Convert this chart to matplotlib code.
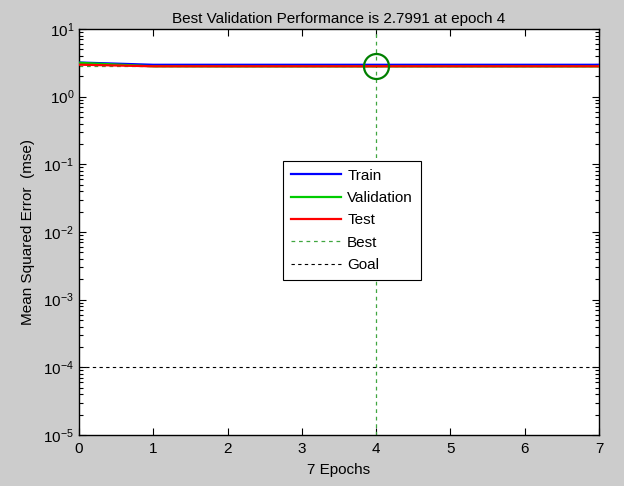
import matplotlib
matplotlib.use("Agg")
import matplotlib.pyplot as plt
from matplotlib.ticker import FixedLocator, NullFormatter, LogFormatterSciNotation

plt.rcParams['font.family'] = ['Liberation Sans', 'DejaVu Sans']
plt.rcParams['mathtext.fontset'] = 'custom'
plt.rcParams['mathtext.rm'] = 'Liberation Sans'
plt.rcParams['mathtext.it'] = 'Liberation Sans'

epochs = [0, 1, 2, 3, 4, 5, 6, 7]
train = [3.20, 2.96, 2.96, 2.96, 2.96, 2.96, 2.96, 2.96]
validation = [3.17, 2.81, 2.80, 2.80, 2.7991, 2.7992, 2.7993, 2.7994]
test = [2.97, 2.81, 2.81, 2.81, 2.81, 2.81, 2.81, 2.81]
best_epoch = 4
best_perf = 2.7991
goal = 1e-4
y_ticks = [1e-5, 1e-4, 1e-3, 1e-2, 1e-1, 1e0, 1e1]
title = "Best Validation Performance is 2.7991 at epoch 4"
xlabel = "7 Epochs"
ylabel = "Mean Squared Error  (mse)"

fs = 11
bg = '#cccccc'
fig = plt.figure(figsize=(6.24, 4.86), dpi=100, facecolor=bg)
ax = fig.add_axes([79/624, 1-435/486, 520/624, 406/486])
ax.set_facecolor('white')

ax.plot(epochs, train, color=(0, 0, 1), lw=1.6, label='Train', zorder=3)
ax.plot(epochs, validation, color=(0, 0.8, 0), lw=1.6, label='Validation', zorder=3)
ax.plot(epochs, test, color=(1, 0, 0), lw=1.6, label='Test', zorder=3)
best_col = (0.25, 0.65, 0.25)
ax.axvline(best_epoch, color=best_col, ls=(0, (3, 3)), lw=0.9, label='Best', zorder=2)
ax.axhline(best_perf, color=best_col, ls=(0, (3, 3)), lw=0.9, zorder=2)
ax.axhline(goal, color='black', ls=(0, (3, 3)), lw=0.8, label='Goal', zorder=2)
ax.plot([best_epoch], [best_perf], 'o', ms=18, mfc='none', mec=(0, 0.5, 0), mew=1.6, zorder=4)

ax.set_yscale('log')
ax.set_xlim(0, 7)
ax.set_ylim(1e-5, 1e1)
ax.xaxis.set_major_locator(FixedLocator(range(0, 8)))
ax.yaxis.set_major_locator(FixedLocator(y_ticks))
ax.yaxis.set_major_formatter(LogFormatterSciNotation())
minor = [m * d for d in y_ticks[:-1] for m in range(2, 10)]
ax.yaxis.set_minor_locator(FixedLocator(minor))
ax.yaxis.set_minor_formatter(NullFormatter())
ax.tick_params(which='both', direction='in', top=True, right=True, labelsize=fs, colors='black')
ax.tick_params(which='major', length=5, width=0.8)
ax.tick_params(which='minor', length=3, width=0.8)
ax.tick_params(axis='x', pad=5)
for s in ax.spines.values():
    s.set_linewidth(1.0)

ax.set_title(title, fontsize=fs, pad=4)
ax.set_xlabel(xlabel, fontsize=fs, labelpad=5)
ax.set_ylabel(ylabel, fontsize=fs, labelpad=6)

leg = ax.legend(loc='upper left', bbox_to_anchor=(283/624, 1-161/486),
                bbox_transform=fig.transFigure, fontsize=fs, frameon=True,
                fancybox=False, edgecolor='black', framealpha=1,
                handlelength=3.3, handletextpad=0.4, labelspacing=0.55,
                borderpad=0.5, borderaxespad=0)
leg.get_frame().set_linewidth(0.8)

fig.savefig('out.png', dpi=100, facecolor=bg)
